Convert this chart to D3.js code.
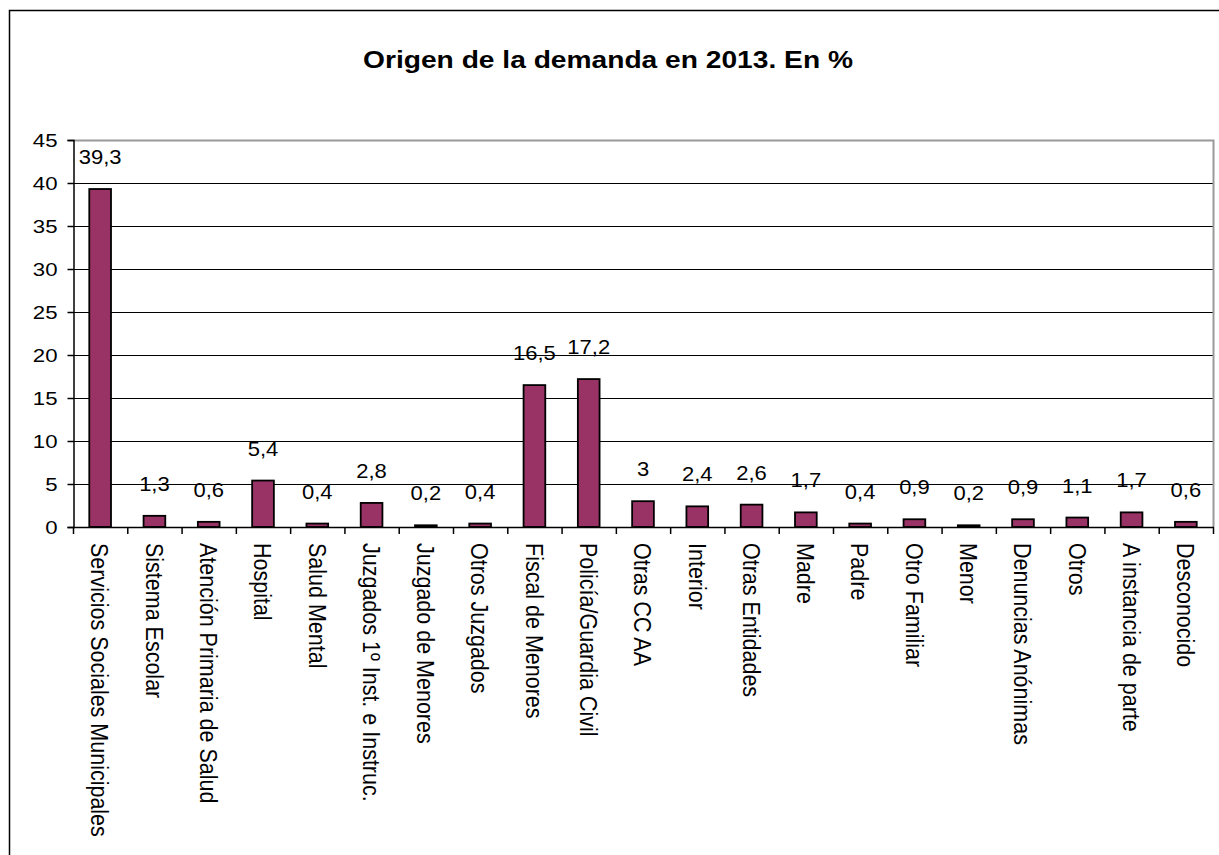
<!DOCTYPE html>
<html>
<head>
<meta charset="utf-8">
<script src="https://cdn.jsdelivr.net/npm/d3@7"></script>
<style>
  body { margin: 0; background: #fff; }
  text { font-family: "Liberation Sans", Arial, sans-serif; fill: #000; }
</style>
</head>
<body>
<script>
// data
const categories = ["Servicios Sociales Municipales", "Sistema Escolar", "Atención Primaria de Salud",
  "Hospital", "Salud Mental", "Juzgados 1º Inst. e Instruc.", "Juzgado de Menores", "Otros Juzgados",
  "Fiscal de Menores", "Policía/Guardia Civil", "Otras CC AA", "Interior", "Otras Entidades", "Madre",
  "Padre", "Otro Familiar", "Menor", "Denuncias Anónimas", "Otros", "A instancia de parte", "Desconocido"];
const values = [39.3, 1.3, 0.6, 5.4, 0.4, 2.8, 0.2, 0.4, 16.5, 17.2, 3, 2.4, 2.6, 1.7, 0.4, 0.9, 0.2, 0.9, 1.1, 1.7, 0.6];
const yTicks = [0, 5, 10, 15, 20, 25, 30, 35, 40, 45];
const title = "Origen de la demanda en 2013. En %";

const W = 1219, H = 855;
const plot = {left: 73, right: 1213, top: 140, bottom: 527};
const stretch = 1.15; // text in the picture is wider than it is tall

const svg = d3.select("body").append("svg")
    .attr("width", W)
    .attr("height", H);

// outer chart border (cut off at right and bottom)
svg.append("rect")
    .attr("x", 9.5).attr("y", 10.5)
    .attr("width", W + 20).attr("height", H + 20)
    .attr("fill", "none")
    .attr("stroke", "#000")
    .attr("stroke-width", 1.5);

svg.append("g")
    .attr("transform", "translate(608," + 68 + ") scale(" + stretch + ",1)")
  .append("text")
    .attr("text-anchor", "middle")
    .style("font-size", "24.5px")
    .style("font-weight", "bold")
    .text(title);

let x = d3.scaleBand()
    .domain(categories)
    .range([plot.left, plot.right])
    .paddingInner(0.6)
    .paddingOuter(0.3);

let y = d3.scaleLinear()
    .domain([0, 45])
    .range([plot.bottom, plot.top]);

// gridlines
svg.append("g")
  .selectAll("line")
  .data(yTicks.filter(t => t > 0 && t < 45))
  .join("line")
    .attr("x1", plot.left).attr("x2", plot.right)
    .attr("y1", d => Math.round(y(d)) + 0.5).attr("y2", d => Math.round(y(d)) + 0.5)
    .attr("stroke", "#000")
    .attr("stroke-width", 1);

// plot area top / right border (grey)
svg.append("path")
    .attr("d", "M" + plot.left + "," + (y(45) + 0.5) + "H" + (plot.right + 0.5) + "V" + plot.bottom)
    .attr("fill", "none")
    .attr("stroke", "#999")
    .attr("stroke-width", 2);

// bars
svg.append("g")
  .selectAll("rect")
  .data(values)
  .join("rect")
    .attr("x", (d, i) => x(categories[i]))
    .attr("y", d => y(d))
    .attr("width", x.bandwidth())
    .attr("height", d => y(0) - y(d))
    .attr("fill", "#993366")
    .attr("stroke", "#000")
    .attr("stroke-width", 1.8);

// value labels
svg.append("g")
  .selectAll("g")
  .data(values)
  .join("g")
    .attr("transform", (d, i) => "translate(" + (x(categories[i]) + x.bandwidth() / 2) + "," + (y(d) - 25) + ") scale(1.1,1)")
  .append("text")
    .attr("text-anchor", "middle")
    .style("font-size", "20px")
    .text(d => String(d).replace(".", ","));

// y axis
let yAxis = d3.axisLeft(y)
    .tickValues(yTicks)
    .tickSize(6)
    .tickPadding(0)
    .tickFormat(d3.format("d"));

let gy = svg.append("g")
    .attr("transform", "translate(" + (plot.left + 0.5) + ",0)")
    .call(yAxis);
gy.select(".domain").attr("stroke", "#000").attr("stroke-width", 1.5);
gy.selectAll(".tick line").attr("stroke", "#000").attr("stroke-width", 1.5);
gy.selectAll(".tick text").remove();
gy.selectAll(".tick")
  .append("g")
    .attr("transform", "translate(-16,0) scale(1.2,1)")
  .append("text")
    .attr("text-anchor", "end")
    .attr("dy", "0.36em")
    .style("font-size", "18.5px")
    .text(d => d);

// x axis: ticks sit between the categories
let gx = svg.append("g");
gx.append("line")
    .attr("x1", plot.left).attr("x2", plot.right + 1)
    .attr("y1", plot.bottom + 0.5).attr("y2", plot.bottom + 0.5)
    .attr("stroke", "#000")
    .attr("stroke-width", 1.5);
gx.selectAll(".sep")
  .data(d3.range(categories.length + 1))
  .join("line")
    .attr("class", "sep")
    .attr("x1", i => plot.left + i * x.step() + 0.5)
    .attr("x2", i => plot.left + i * x.step() + 0.5)
    .attr("y1", plot.bottom).attr("y2", plot.bottom + 7)
    .attr("stroke", "#000")
    .attr("stroke-width", 1.5);

gx.selectAll(".lab")
  .data(categories)
  .join("g")
    .attr("class", "lab")
    .attr("transform", d => "translate(" + (x(d) + x.bandwidth() / 2) + "," + (plot.bottom + 16) + ") scale(1.15,1) rotate(90)")
  .append("text")
    .attr("text-anchor", "start")
    .attr("dy", "0.35em")
    .style("font-size", "21.5px")
    .text(d => d);
</script>
</body>
</html>
